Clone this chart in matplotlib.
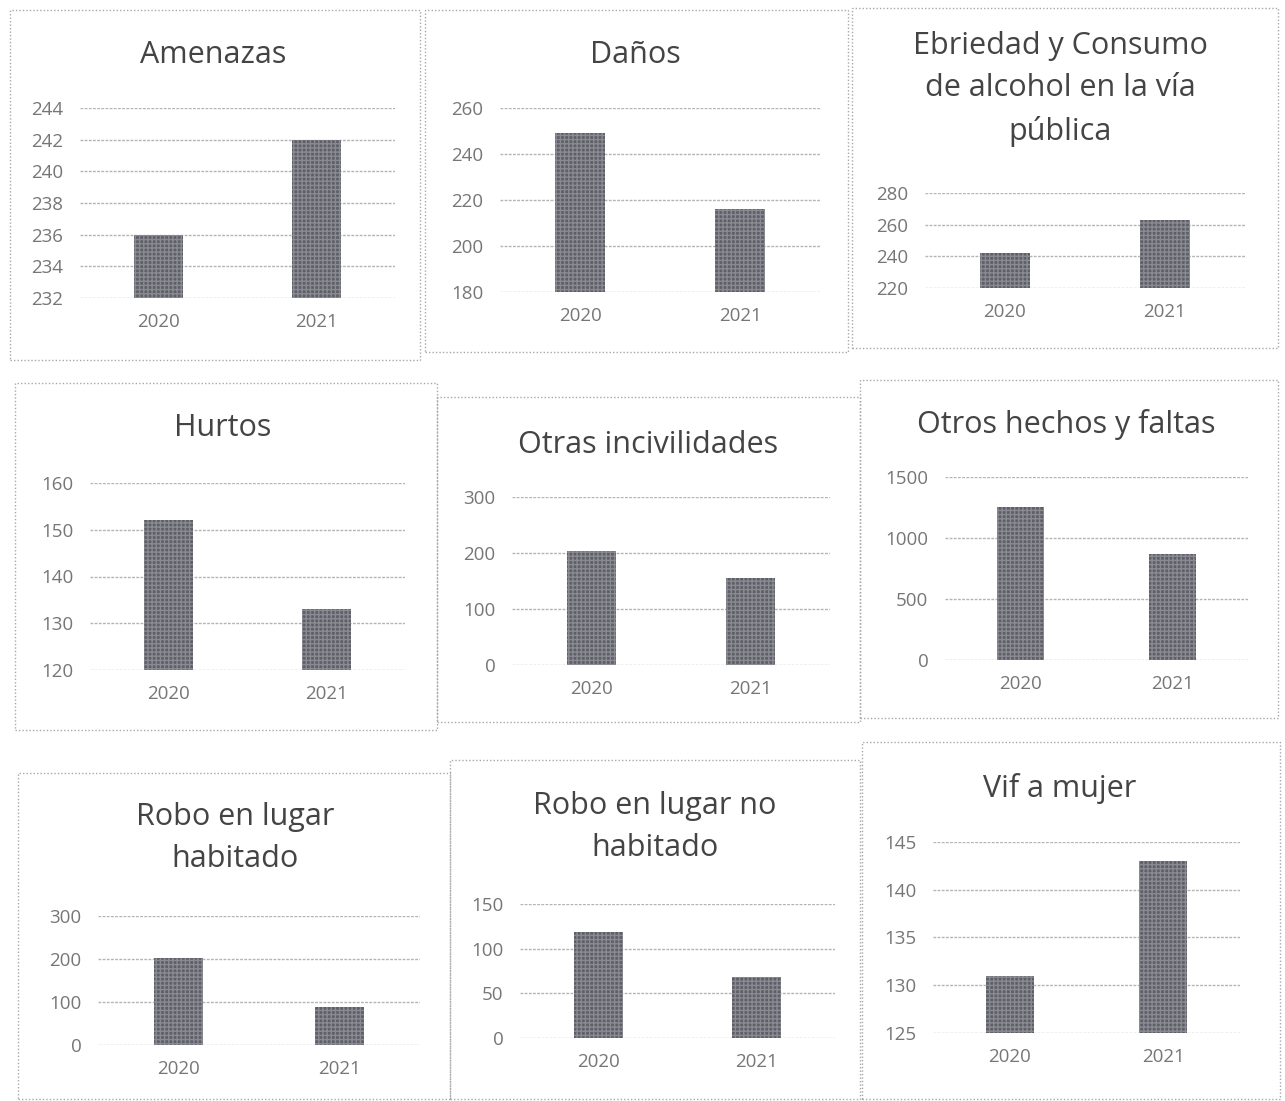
import numpy as np
import matplotlib
matplotlib.use("Agg")
import matplotlib.pyplot as plt
from matplotlib.patches import Rectangle

plt.rcParams['font.family'] = ['Open Sans', 'DejaVu Sans']

# ---- data ----
years = ["2020", "2021"]
titles = [
    "Amenazas",
    "Daños",
    "Ebriedad y Consumo\nde alcohol en la vía\npública",
    "Hurtos",
    "Otras incivilidades",
    "Otros hechos y faltas",
    "Robo en lugar\nhabitado",
    "Robo en lugar no\nhabitado",
    "Vif a mujer",
]
amenazas = [236, 242]
danos = [249, 216]
ebriedad = [242, 263]
hurtos = [152, 133]
otras_incivilidades = [204, 155]
otros_hechos = [1255, 865]
robo_habitado = [202, 88]
robo_no_habitado = [119, 68]
vif_mujer = [131, 143]
series = [amenazas, danos, ebriedad, hurtos, otras_incivilidades,
          otros_hechos, robo_habitado, robo_no_habitado, vif_mujer]

yticks = [
    [232, 234, 236, 238, 240, 242, 244],
    [180, 200, 220, 240, 260],
    [220, 240, 260, 280],
    [120, 130, 140, 150, 160],
    [0, 100, 200, 300],
    [0, 500, 1000, 1500],
    [0, 100, 200, 300],
    [0, 50, 100, 150],
    [125, 130, 135, 140, 145],
]

# ---- layout (pixels) ----
W, H = 1285, 1101
# plot area: x0, x1, y_top, y_bottom
plot_px = [
    (80, 395, 108, 298),
    (500, 820, 108, 292),
    (925, 1245, 193, 288),
    (90, 405, 483, 670),
    (512, 830, 497, 665),
    (945, 1248, 477, 660),
    (98, 420, 916, 1045),
    (520, 835, 904, 1038),
    (933, 1240, 842, 1033),
]
title_px = [
    (213, 55), (635, 55), (1060, 89),
    (223, 428), (648, 445), (1066, 424),
    (235, 838), (655, 827), (1060, 789),
]
box_px = [
    (10, 420, 10, 360), (425, 848, 10, 352), (852, 1278, 8, 348),
    (15, 437, 383, 730), (437, 860, 397, 722), (860, 1278, 380, 718),
    (18, 450, 773, 1099), (450, 860, 760, 1099), (862, 1280, 742, 1099),
]

fig = plt.figure(figsize=(W / 100, H / 100), dpi=100)
fig.patch.set_facecolor("white")

for (bx0, bx1, by0, by1) in box_px:
    fig.patches.append(Rectangle((bx0 / W, 1 - by1 / H), (bx1 - bx0) / W, (by1 - by0) / H,
                                 transform=fig.transFigure, fill=False,
                                 edgecolor="#a8a8a8", linewidth=1.0, linestyle=(0, (1, 1.5))))

bar_color = "#5f5f67"
for i in range(9):
    x0, x1, yt, yb = plot_px[i]
    ax = fig.add_axes([x0 / W, 1 - yb / H, (x1 - x0) / W, (yb - yt) / H])
    ticks = yticks[i]
    lo, hi = ticks[0], ticks[-1]
    xs = np.arange(len(years))
    vals = series[i]
    ax.bar(xs, [v - lo for v in vals], bottom=lo, width=0.31, color=bar_color,
           edgecolor="#8a8a92", hatch="++++", linewidth=0)
    ax.set_xlim(-0.5, 1.5)
    ax.set_ylim(lo, hi)
    ax.set_yticks(ticks)
    ax.set_yticklabels([str(t) for t in ticks])
    ax.set_xticks(xs)
    ax.set_xticklabels(years)
    ax.yaxis.grid(True, color="#b4b4b4", linewidth=1.0, linestyle=(0, (2, 1)))
    ax.set_axisbelow(True)
    for s in ax.spines.values():
        s.set_visible(False)
    ax.tick_params(axis="both", length=0, labelsize=13.5, colors="#767676")
    ax.tick_params(axis="y", pad=12)
    ax.tick_params(axis="x", pad=11)
    ax.set_facecolor("none")
    tx, ty = title_px[i]
    fig.text(tx / W, 1 - ty / H, titles[i], ha="center", va="center",
             fontsize=22, color="#444444", linespacing=1.52)

fig.savefig("out.png", dpi=100)
